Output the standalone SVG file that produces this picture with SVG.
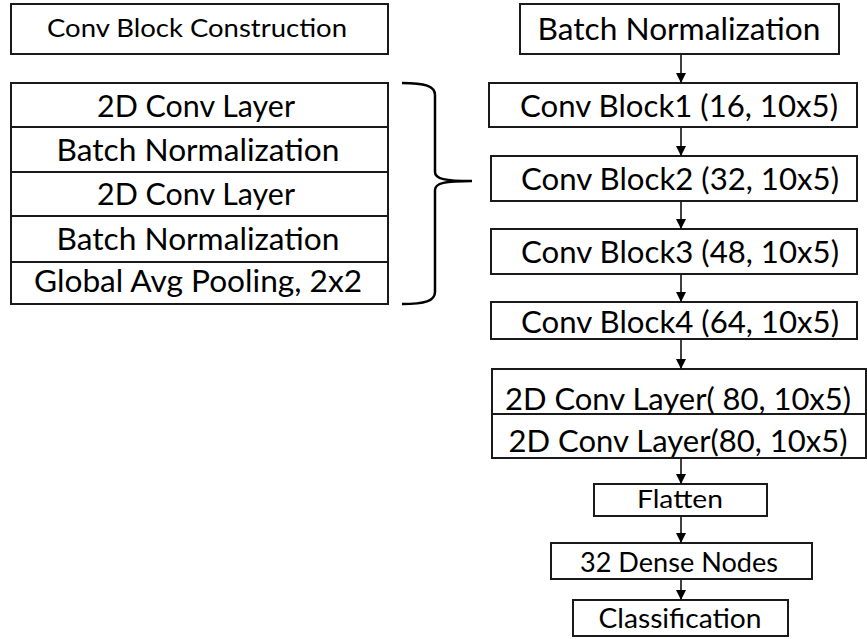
<svg xmlns="http://www.w3.org/2000/svg" width="867" height="639" viewBox="0 0 867 639">
<defs>
<style>
.b{fill:#fff;stroke:#1a1a1a;stroke-width:2}
.t{font-family:Lato,"Noto Sans",sans-serif;fill:#000;text-anchor:middle}
.c{stroke:#000;stroke-width:1.5;fill:none}
</style>
<marker id="ah" markerWidth="10" markerHeight="10" refX="9" refY="5" orient="auto" markerUnits="userSpaceOnUse">
<path d="M0,0 L10,5 L0,10 z" fill="#000"/>
</marker>
</defs>
<rect width="867" height="639" fill="#fff"/>
<g id="title">
<rect class="b" x="11" y="4" width="377" height="50"/>
<text class="t" x="197" y="37" font-size="25" textLength="300" lengthAdjust="spacingAndGlyphs">Conv Block Construction</text>
</g>
<g id="block-construction">
<rect class="b" x="11" y="83" width="377" height="221"/>
<line class="b" x1="11" y1="127" x2="388" y2="127"/>
<line class="b" x1="11" y1="172" x2="388" y2="172"/>
<line class="b" x1="11" y1="216" x2="388" y2="216"/>
<line class="b" x1="11" y1="262" x2="388" y2="262"/>
<text class="t" x="196" y="117" font-size="30" textLength="198" lengthAdjust="spacingAndGlyphs">2D Conv Layer</text>
<text class="t" x="198" y="161" font-size="30" textLength="283" lengthAdjust="spacingAndGlyphs">Batch Normalization</text>
<text class="t" x="196" y="205" font-size="30" textLength="198" lengthAdjust="spacingAndGlyphs">2D Conv Layer</text>
<text class="t" x="198" y="250" font-size="30" textLength="283" lengthAdjust="spacingAndGlyphs">Batch Normalization</text>
<text class="t" x="198" y="292" font-size="30" textLength="328" lengthAdjust="spacingAndGlyphs">Global Avg Pooling, 2x2</text>
</g>
<g id="brace">
<path d="M402,83 C425,83 435,86 435,95 L435,172 C435,179 445,181 472,181 C445,181 435,183 435,190 L435,292 C435,301 425,304 402,304" fill="none" stroke="#000" stroke-width="2.5"/>
</g>
<g id="bn">
<rect class="b" x="520" y="4" width="319" height="50"/>
<text class="t" x="679" y="40" font-size="30" textLength="283" lengthAdjust="spacingAndGlyphs">Batch Normalization</text>
</g>
<g id="cb1">
<rect class="b" x="489" y="83" width="368" height="44"/>
<text class="t" x="679" y="117" font-size="30" textLength="318" lengthAdjust="spacingAndGlyphs">Conv Block1 (16, 10x5)</text>
</g>
<g id="cb2">
<rect class="b" x="491" y="156" width="366" height="45"/>
<text class="t" x="680" y="190" font-size="30" textLength="318" lengthAdjust="spacingAndGlyphs">Conv Block2 (32, 10x5)</text>
</g>
<g id="cb3">
<rect class="b" x="491" y="229" width="366" height="45"/>
<text class="t" x="680" y="263" font-size="30" textLength="318" lengthAdjust="spacingAndGlyphs">Conv Block3 (48, 10x5)</text>
</g>
<g id="cb4">
<rect class="b" x="491" y="302" width="366" height="37"/>
<text class="t" x="680" y="333" font-size="30" textLength="318" lengthAdjust="spacingAndGlyphs">Conv Block4 (64, 10x5)</text>
</g>
<g id="conv2d">
<rect class="b" x="492" y="369" width="374" height="89"/>
<line class="b" x1="492" y1="414" x2="866" y2="414"/>
<text class="t" x="678" y="410" font-size="30" textLength="346" lengthAdjust="spacingAndGlyphs">2D Conv Layer( 80, 10x5)</text>
<text class="t" x="678" y="452" font-size="30" textLength="339" lengthAdjust="spacingAndGlyphs">2D Conv Layer(80, 10x5)</text>
</g>
<g id="flatten">
<rect class="b" x="594" y="484" width="173" height="32"/>
<text class="t" x="680" y="508" font-size="25" textLength="86" lengthAdjust="spacingAndGlyphs">Flatten</text>
</g>
<g id="dense">
<rect class="b" x="551" y="543" width="261" height="36"/>
<text class="t" x="679" y="572" font-size="27" textLength="198" lengthAdjust="spacingAndGlyphs">32 Dense Nodes</text>
</g>
<g id="cls">
<rect class="b" x="573" y="600" width="215" height="36"/>
<text class="t" x="680" y="628" font-size="26" textLength="163" lengthAdjust="spacingAndGlyphs">Classification</text>
</g>
<g id="connectors">
<line class="c" x1="681" y1="55" x2="681" y2="82" marker-end="url(#ah)"/>
<line class="c" x1="681" y1="128" x2="681" y2="155" marker-end="url(#ah)"/>
<line class="c" x1="681" y1="202" x2="681" y2="228" marker-end="url(#ah)"/>
<line class="c" x1="681" y1="275" x2="681" y2="301" marker-end="url(#ah)"/>
<line class="c" x1="681" y1="340" x2="681" y2="368" marker-end="url(#ah)"/>
<line class="c" x1="681" y1="459" x2="681" y2="483" marker-end="url(#ah)"/>
<line class="c" x1="681" y1="517" x2="681" y2="542" marker-end="url(#ah)"/>
<line class="c" x1="681" y1="580" x2="681" y2="599" marker-end="url(#ah)"/>
</g>
</svg>
